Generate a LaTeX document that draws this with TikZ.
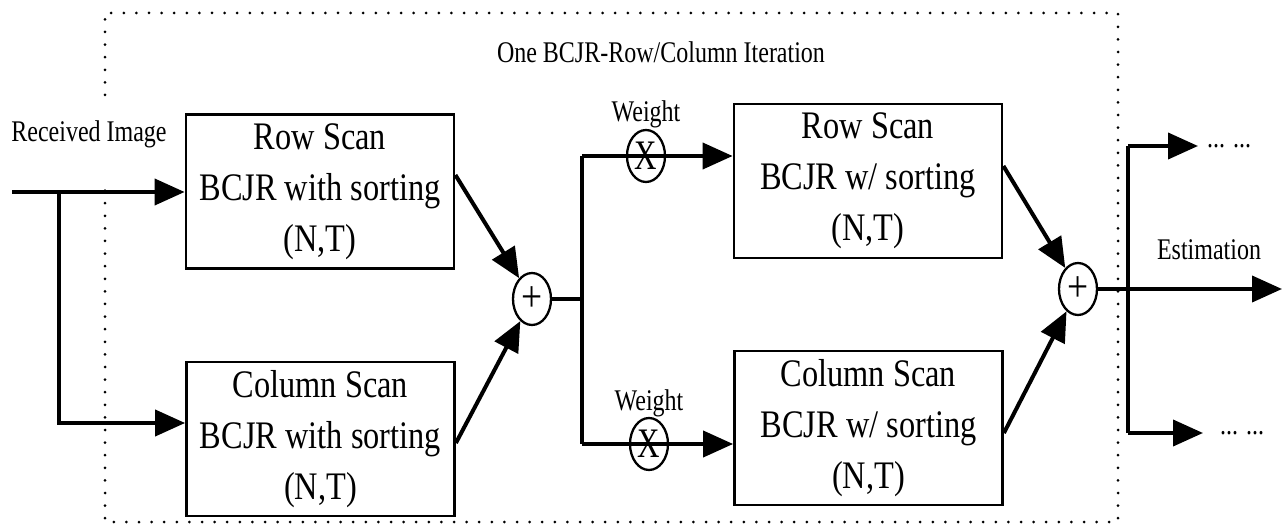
\documentclass[tikz,border=0pt]{standalone}
\usepackage{fontspec}
\setmainfont{Liberation Serif}[FakeStretch=0.83]
\newfontfamily\lblfont{Liberation Serif}[FakeStretch=0.8]
\newfontfamily\timesfont{Liberation Serif}[FakeStretch=0.74]
\newfontfamily\plusfont{Liberation Serif}[FakeStretch=0.85]
\usetikzlibrary{arrows.meta,shapes.geometric,calc}

\begin{document}
\begin{tikzpicture}[x=1pt,y=-1pt,
  conn/.style={line width=4pt},
  arr/.style={conn,-{Triangle[length=30pt,width=26pt]}},
  block/.style={draw,line width=2.8pt,minimum width=268pt,minimum height=154pt,
    inner sep=0pt,align=center,font=\fontsize{39}{51}\selectfont},
  op/.style={draw,ellipse,line width=2.3pt,minimum width=38pt,minimum height=52pt,
    inner sep=0pt},
  adder/.style={op,font=\plusfont\fontsize{44}{44}\selectfont},
  weight/.style={op,font=\timesfont\fontsize{42}{42}\selectfont},
  lbl/.style={font=\lblfont\fontsize{30}{34}\selectfont,inner sep=0pt},
  frame/.style={line width=3pt,dash pattern=on 0pt off 12.6pt,line cap=round}]

\useasboundingbox (0,0) rectangle (1283,529);

% dotted frame of one iteration (left side broken around the input label)
\draw[frame] (105,95) -- (105,13) -- (1118,13) -- (1118,522) -- (105,522) -- (105,186);
\node[lbl,anchor=base] (title) at (661,63) {One BCJR-Row/Column Iteration};

% processing blocks
\node[block] (row1) at (320,191.5) {Row Scan\\BCJR with sorting\\(N,T)};
\node[block] (col1) at (320.5,439) {Column Scan\\BCJR with sorting\\(N,T)};
\node[block] (row2) at (868,181) {Row Scan\\BCJR w/ sorting\\(N,T)};
\node[block] (col2) at (868.5,428) {Column Scan\\BCJR w/ sorting\\(N,T)};

% adders and weights
\node[adder] (sum1) at (532,299) {+};
\node[adder] (sum2) at (1078,289) {+};
\node[weight] (w1) at (646,156) {X};
\node[weight] (w2) at (649,444) {X};
\node[lbl,anchor=base] (wl1) at (646,122) {Weight};
\node[lbl,anchor=base] (wl2) at (649,410) {Weight};

% labels
\node[lbl,anchor=base] (rx) at (89,142) {Received Image};
\node[lbl,anchor=base] (est) at (1209,260) {Estimation};
\node[lbl] (dots1) at (1229,146) {... ...};
\node[lbl] (dots2) at (1242,433) {... ...};

% junction points
\coordinate (in) at (12,192);
\coordinate (split) at (59,192);
\coordinate (split2) at (59,423);
\coordinate (j) at (582,299);
\coordinate (jt) at (582,156);
\coordinate (jb) at (582,444);
\coordinate (bt) at (1128,146);
\coordinate (bb) at (1128,433);
\coordinate (out) at (1282,289);
\coordinate (tt) at (1198,146);
\coordinate (tb) at (1203,433);
\coordinate (r1o) at ($(row1.east)+(0,-16.5)$);
\coordinate (c1o) at ($(col1.east)+(0,4)$);
\coordinate (r2o) at ($(row2.east)+(0,-15)$);
\coordinate (c2o) at ($(col2.east)+(0,5)$);

% connectors
\draw[arr] (in) -- (row1.west |- in);
\draw[arr] (split) -- (split2) -- (col1.west |- split2);
\draw[arr] (r1o) -- (sum1);
\draw[arr] (c1o) -- (sum1);
\draw[conn] (sum1.east) -- (j);
\draw[conn] (jt) -- (jb);
\draw[arr] (jt) -- (row2.west |- jt);
\draw[arr] (jb) -- (col2.west |- jb);
\draw[arr] (r2o) -- (sum2);
\draw[arr] (c2o) -- (sum2);
\draw[arr] (sum2.east) -- (out);
\draw[conn] (bt) -- (bb);
\draw[arr] (bt) -- (tt);
\draw[arr] (bb) -- (tb);
\end{tikzpicture}
\end{document}
